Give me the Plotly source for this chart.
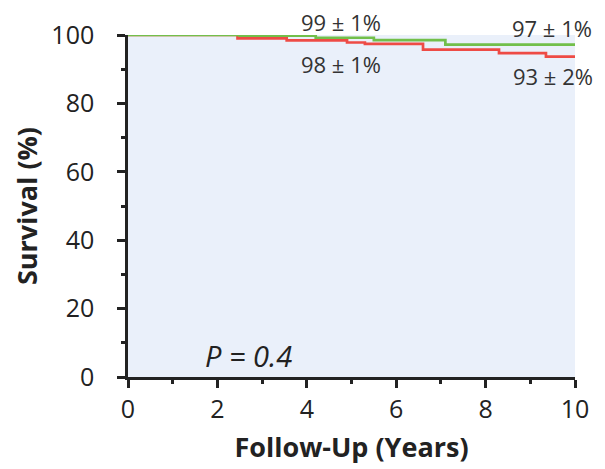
import plotly.graph_objects as go

# Kaplan-Meier step data (years, survival %)
green_x = [0, 2.5, 4.2, 5.5, 7.1, 10]
green_y = [100, 99.8, 99.2, 98.5, 97.2, 97.2]
red_x = [0, 2.45, 3.55, 4.9, 5.3, 6.6, 8.3, 9.35, 10]
red_y = [100, 99.0, 98.4, 97.8, 97.4, 95.7, 94.7, 93.7, 93.7]

x_ticks = [0, 2, 4, 6, 8, 10]
y_ticks = [0, 20, 40, 60, 80, 100]

# label text, x (years), y (paper fraction of plot height)
labels = [
    ("99 ± 1%", 4.77, 1.038),
    ("98 ± 1%", 4.77, 0.915),
    ("97 ± 1%", 9.49, 1.020),
    ("93 ± 2%", 9.5, 0.880),
]

FONT = "Open Sans"
DARK = "#222222"

fig = go.Figure()
fig.add_trace(go.Scatter(x=red_x, y=red_y, mode="lines",
                         line=dict(color="#EE4B45", width=2.7, shape="hv"),
                         cliponaxis=False, showlegend=False))
fig.add_trace(go.Scatter(x=green_x, y=green_y, mode="lines",
                         line=dict(color="#72BF4A", width=2.7, shape="hv"),
                         cliponaxis=False, showlegend=False))

for t, x, y in labels:
    fig.add_annotation(x=x, y=y, xref="x", yref="paper", text=t, showarrow=False,
                       xanchor="center", yanchor="middle",
                       font=dict(family=FONT, size=22, color="#333333"))

fig.add_annotation(x=2.7, y=6.4, text="<i>P = 0.4</i>", showarrow=False,
                   xanchor="center", yanchor="middle",
                   font=dict(family=FONT, size=29, color=DARK))

axis_common = dict(
    showline=True, linecolor=DARK, linewidth=2.5, ticks="outside", ticklen=8, tickwidth=2.5,
    tickcolor=DARK, showgrid=False, zeroline=False, automargin=False,
    tickfont=dict(family=FONT, size=25, color=DARK),
    minor=dict(ticks="outside", ticklen=4, tickwidth=2.5, tickcolor=DARK),
)

fig.update_xaxes(range=[0, 10], tickvals=x_ticks, minor_dtick=1,
                 title=dict(text="<b>Follow-Up (Years)</b>", font=dict(family=FONT, size=27, color=DARK)),
                 **axis_common)
fig.update_yaxes(range=[0, 100], tickvals=y_ticks, minor_dtick=10, ticklabelstandoff=18,
                 title=dict(text="<b>Survival (%)</b>", font=dict(family=FONT, size=27, color=DARK)),
                 **axis_common)

# the page body adds an 8px offset, so the figure is sized to fit the window
fig.update_layout(
    width=597, height=461,
    margin=dict(l=120, r=30, t=27, b=92),
    plot_bgcolor="#EAF0FA", paper_bgcolor="white",
)

fig.write_html("out.html")
